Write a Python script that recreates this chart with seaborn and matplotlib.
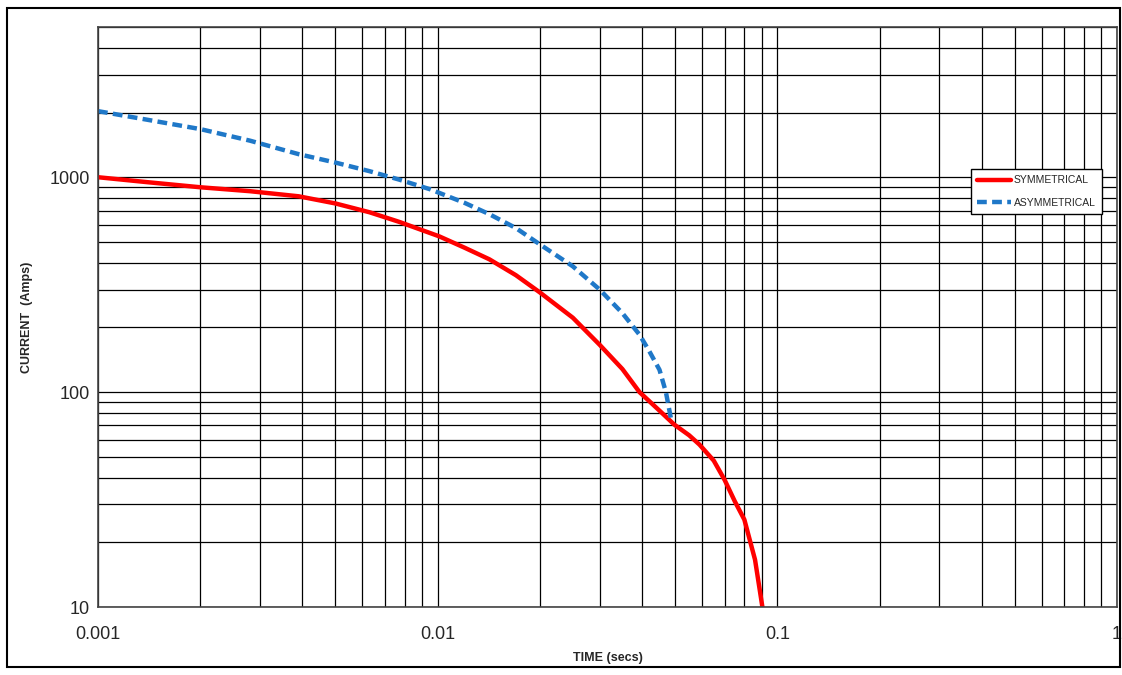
import numpy as np
import matplotlib
matplotlib.use("Agg")
import matplotlib.pyplot as plt
from matplotlib.patches import Rectangle
from matplotlib.ticker import LogLocator, NullFormatter, FixedLocator, FixedFormatter
import seaborn as sns

sym_t = [0.001, 0.0014, 0.002, 0.0028, 0.0039, 0.0050, 0.0063, 0.0077, 0.0101, 0.0120, 0.0142, 0.017,
         0.020, 0.025, 0.030, 0.035, 0.0393, 0.045, 0.0497, 0.055, 0.059, 0.065, 0.070, 0.075, 0.080, 0.086, 0.0904]
sym_i = [1000, 948, 898, 861, 815, 755, 687, 620, 531, 470, 415, 350,
         291, 222, 166, 128, 100, 82, 70.7, 63, 57, 48, 39, 31, 25.5, 16.6, 10]
asym_t = [0.001, 0.0014, 0.002, 0.0028, 0.0039, 0.0050, 0.0063, 0.0077, 0.0095, 0.0120, 0.0142, 0.017,
          0.020, 0.025, 0.030, 0.035, 0.0393, 0.042, 0.045, 0.047, 0.0489]
asym_i = [2030, 1850, 1675, 1480, 1280, 1170, 1067, 975, 879, 760, 673, 580,
          487, 385, 300, 233, 185, 155, 127, 100, 72]

sns.set_style("white")
plt.rcParams["font.family"] = ["Liberation Sans", "DejaVu Sans"]

fig = plt.figure(figsize=(11.22, 6.75), dpi=100)
ax = fig.add_axes([0.0873, 0.1007, 0.9082, 0.8593])
sns.lineplot(x=sym_t, y=sym_i, ax=ax, color="#ff0000", lw=3.2, label="SYMMETRICAL", sort=False)
sns.lineplot(x=asym_t, y=asym_i, ax=ax, color="#1f78c8", lw=3.2, label="ASYMMETRICAL", sort=False)
ax.lines[1].set_linestyle((0, (2.2, 1.2)))
ax.set_xscale("log")
ax.set_yscale("log")
ax.set_xlim(0.001, 1)
ax.set_ylim(10, 5000)
ax.xaxis.set_minor_locator(LogLocator(base=10, subs=np.arange(2, 10)))
ax.yaxis.set_minor_locator(LogLocator(base=10, subs=np.arange(2, 10)))
ax.xaxis.set_minor_formatter(NullFormatter())
ax.yaxis.set_minor_formatter(NullFormatter())
ax.xaxis.set_major_locator(FixedLocator([0.001, 0.01, 0.1, 1]))
ax.xaxis.set_major_formatter(FixedFormatter(["0.001", "0.01", "0.1", "1"]))
ax.yaxis.set_major_locator(FixedLocator([10, 100, 1000]))
ax.yaxis.set_major_formatter(FixedFormatter(["10", "100", "1000"]))
ax.grid(True, which="both", color="black", lw=0.9)
ax.tick_params(axis="x", which="both", length=0, labelsize=13, pad=14)
ax.tick_params(axis="y", which="both", length=0, labelsize=13, pad=6)
for s in ax.spines.values():
    s.set_color("#444444")
    s.set_linewidth(1.2)
ax.set_xlabel("TIME (secs)", fontsize=9, fontweight="bold", labelpad=6)
ax.set_ylabel("CURRENT  (Amps)", fontsize=9, fontweight="bold", labelpad=12)
leg = ax.legend(loc="upper left", bbox_to_anchor=(0.857, 0.755), fontsize=7.5, frameon=True,
                fancybox=False, edgecolor="black", framealpha=1, handlelength=3.2,
                handletextpad=0.3, labelspacing=1.2, borderpad=0.6, borderaxespad=0)
leg.get_frame().set_linewidth(1.0)
fig.patches.append(Rectangle((0.006, 0.012), 0.992, 0.976, transform=fig.transFigure,
                             fill=False, edgecolor="black", lw=1.5))
fig.savefig("out.png", dpi=100)
